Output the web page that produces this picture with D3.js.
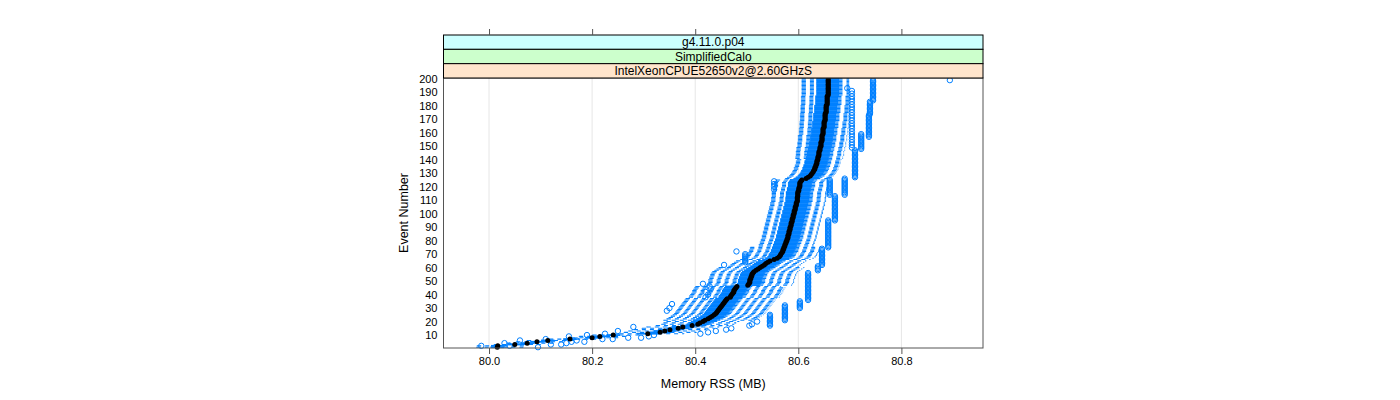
<!DOCTYPE html>
<html>
<head>
<meta charset="utf-8">
<script src="https://cdn.jsdelivr.net/npm/d3@7/dist/d3.min.js"></script>
<style>
  body { margin: 0; background: #fff; }
  svg { font-family: "Liberation Sans", Arial, sans-serif; }
</style>
</head>
<body>
<svg id="chart" width="1400" height="400"></svg>
<script>
// Memory RSS box-and-whisker per event, lattice bwplot style

const strips = ["g4.11.0.p04", "SimplifiedCalo", "IntelXeonCPUE52650v2@2.60GHzS"];
const stripColors = ["#ccffff", "#ccffcc", "#ffe5cc"];
const xTicks = [80.0, 80.2, 80.4, 80.6, 80.8];
const yTicks = [10, 20, 30, 40, 50, 60, 70, 80, 90, 100, 110, 120, 130, 140, 150, 160, 170, 180, 190, 200];
const events = d3.range(1, 201);

// lower whisker end per event (MB)
const lo = [
  79.976, 79.977, 80.010, 80.034, 80.053, 80.074, 80.117, 80.160, 80.175, 80.201,
  80.238, 80.262, 80.271, 80.281, 80.297, 80.306, 80.324, 80.335, 80.339, 80.345,
  80.339, 80.345, 80.349, 80.353, 80.357, 80.360, 80.362, 80.364, 80.366, 80.368,
  80.370, 80.372, 80.374, 80.376, 80.378, 80.380, 80.382, 80.388, 80.389, 80.391,
  80.393, 80.395, 80.395, 80.397, 80.399, 80.401, 80.422, 80.424, 80.426, 80.426,
  80.426, 80.428, 80.428, 80.430, 80.430, 80.432, 80.434, 80.438, 80.442, 80.446,
  80.465, 80.469, 80.472, 80.476, 80.480, 80.488, 80.494, 80.498, 80.500, 80.501,
  80.503, 80.505, 80.505, 80.507, 80.507, 80.524, 80.524, 80.526, 80.526, 80.528,
  80.528, 80.530, 80.530, 80.530, 80.532, 80.532, 80.532, 80.534, 80.534, 80.534,
  80.536, 80.536, 80.536, 80.538, 80.538, 80.538, 80.540, 80.540, 80.540, 80.542,
  80.542, 80.542, 80.544, 80.544, 80.544, 80.546, 80.546, 80.546, 80.548, 80.548,
  80.548, 80.548, 80.549, 80.549, 80.549, 80.549, 80.551, 80.551, 80.551, 80.553,
  80.553, 80.553, 80.553, 80.555, 80.557, 80.575, 80.579, 80.583, 80.585, 80.587,
  80.589, 80.590, 80.592, 80.592, 80.594, 80.594, 80.596, 80.596, 80.596, 80.598,
  80.595, 80.595, 80.596, 80.596, 80.596, 80.596, 80.597, 80.597, 80.597, 80.599,
  80.599, 80.599, 80.599, 80.600, 80.600, 80.600, 80.600, 80.600, 80.602, 80.602,
  80.602, 80.602, 80.602, 80.603, 80.603, 80.603, 80.603, 80.603, 80.604, 80.604,
  80.604, 80.604, 80.604, 80.604, 80.605, 80.605, 80.605, 80.605, 80.605, 80.605,
  80.606, 80.606, 80.606, 80.606, 80.606, 80.606, 80.606, 80.607, 80.607, 80.607,
  80.607, 80.607, 80.607, 80.607, 80.607, 80.607, 80.607, 80.607, 80.607, 80.607
];

// first quartile
const q1 = [
  80.004, 80.005, 80.038, 80.062, 80.081, 80.102, 80.145, 80.188, 80.203, 80.229,
  80.288, 80.312, 80.321, 80.331, 80.347, 80.356, 80.374, 80.385, 80.389, 80.395,
  80.397, 80.403, 80.407, 80.411, 80.415, 80.418, 80.420, 80.422, 80.424, 80.426,
  80.428, 80.430, 80.432, 80.434, 80.436, 80.438, 80.440, 80.446, 80.447, 80.449,
  80.451, 80.453, 80.453, 80.455, 80.457, 80.459, 80.480, 80.482, 80.484, 80.484,
  80.484, 80.486, 80.486, 80.488, 80.488, 80.490, 80.492, 80.496, 80.500, 80.504,
  80.508, 80.512, 80.515, 80.519, 80.523, 80.531, 80.537, 80.541, 80.543, 80.544,
  80.546, 80.548, 80.548, 80.550, 80.550, 80.552, 80.552, 80.554, 80.554, 80.556,
  80.556, 80.558, 80.558, 80.558, 80.560, 80.560, 80.560, 80.562, 80.562, 80.562,
  80.564, 80.564, 80.564, 80.566, 80.566, 80.566, 80.568, 80.568, 80.568, 80.570,
  80.570, 80.570, 80.572, 80.572, 80.572, 80.574, 80.574, 80.574, 80.576, 80.576,
  80.576, 80.576, 80.577, 80.577, 80.577, 80.577, 80.579, 80.579, 80.579, 80.581,
  80.581, 80.581, 80.581, 80.583, 80.585, 80.593, 80.597, 80.601, 80.603, 80.605,
  80.607, 80.608, 80.610, 80.610, 80.612, 80.612, 80.614, 80.614, 80.614, 80.616,
  80.616, 80.616, 80.618, 80.618, 80.618, 80.618, 80.620, 80.620, 80.620, 80.622,
  80.622, 80.622, 80.622, 80.624, 80.624, 80.624, 80.624, 80.624, 80.626, 80.626,
  80.626, 80.626, 80.626, 80.628, 80.628, 80.628, 80.628, 80.628, 80.630, 80.630,
  80.630, 80.630, 80.630, 80.630, 80.632, 80.632, 80.632, 80.632, 80.632, 80.632,
  80.634, 80.634, 80.634, 80.634, 80.634, 80.634, 80.634, 80.636, 80.636, 80.636,
  80.636, 80.636, 80.636, 80.636, 80.636, 80.636, 80.636, 80.636, 80.636, 80.636
];

// median
const med = [
  80.016, 80.017, 80.050, 80.074, 80.093, 80.114, 80.157, 80.200, 80.215, 80.241,
  80.308, 80.332, 80.341, 80.351, 80.367, 80.376, 80.394, 80.405, 80.409, 80.415,
  80.419, 80.425, 80.429, 80.433, 80.437, 80.440, 80.442, 80.444, 80.446, 80.448,
  80.450, 80.452, 80.454, 80.456, 80.458, 80.460, 80.462, 80.468, 80.469, 80.471,
  80.473, 80.475, 80.475, 80.477, 80.479, 80.481, 80.502, 80.504, 80.506, 80.506,
  80.506, 80.508, 80.508, 80.510, 80.510, 80.512, 80.514, 80.518, 80.522, 80.526,
  80.530, 80.534, 80.537, 80.541, 80.545, 80.553, 80.559, 80.563, 80.565, 80.566,
  80.568, 80.570, 80.570, 80.572, 80.572, 80.574, 80.574, 80.576, 80.576, 80.578,
  80.578, 80.580, 80.580, 80.580, 80.582, 80.582, 80.582, 80.584, 80.584, 80.584,
  80.586, 80.586, 80.586, 80.588, 80.588, 80.588, 80.590, 80.590, 80.590, 80.592,
  80.592, 80.592, 80.594, 80.594, 80.594, 80.596, 80.596, 80.596, 80.598, 80.598,
  80.598, 80.598, 80.599, 80.599, 80.599, 80.599, 80.601, 80.601, 80.601, 80.603,
  80.603, 80.603, 80.603, 80.605, 80.607, 80.615, 80.619, 80.623, 80.625, 80.627,
  80.629, 80.630, 80.632, 80.632, 80.634, 80.634, 80.636, 80.636, 80.636, 80.638,
  80.638, 80.638, 80.640, 80.640, 80.640, 80.640, 80.642, 80.642, 80.642, 80.644,
  80.644, 80.644, 80.644, 80.646, 80.646, 80.646, 80.646, 80.646, 80.648, 80.648,
  80.648, 80.648, 80.648, 80.650, 80.650, 80.650, 80.650, 80.650, 80.652, 80.652,
  80.652, 80.652, 80.652, 80.652, 80.654, 80.654, 80.654, 80.654, 80.654, 80.654,
  80.656, 80.656, 80.656, 80.656, 80.656, 80.656, 80.656, 80.658, 80.658, 80.658,
  80.658, 80.658, 80.658, 80.658, 80.658, 80.658, 80.658, 80.658, 80.658, 80.658
];

// third quartile
const q3 = [
  80.028, 80.029, 80.062, 80.086, 80.105, 80.126, 80.169, 80.212, 80.227, 80.253,
  80.328, 80.352, 80.361, 80.371, 80.387, 80.396, 80.414, 80.425, 80.429, 80.435,
  80.441, 80.447, 80.451, 80.455, 80.459, 80.462, 80.464, 80.466, 80.468, 80.470,
  80.472, 80.474, 80.476, 80.478, 80.480, 80.482, 80.484, 80.490, 80.491, 80.493,
  80.495, 80.497, 80.497, 80.499, 80.501, 80.503, 80.524, 80.526, 80.528, 80.528,
  80.528, 80.530, 80.530, 80.532, 80.532, 80.534, 80.536, 80.540, 80.544, 80.548,
  80.552, 80.556, 80.559, 80.563, 80.567, 80.575, 80.581, 80.585, 80.587, 80.588,
  80.590, 80.592, 80.592, 80.594, 80.594, 80.596, 80.596, 80.598, 80.598, 80.600,
  80.600, 80.602, 80.602, 80.602, 80.604, 80.604, 80.604, 80.606, 80.606, 80.606,
  80.608, 80.608, 80.608, 80.610, 80.610, 80.610, 80.612, 80.612, 80.612, 80.614,
  80.614, 80.614, 80.616, 80.616, 80.616, 80.618, 80.618, 80.618, 80.620, 80.620,
  80.620, 80.620, 80.621, 80.621, 80.621, 80.621, 80.623, 80.623, 80.623, 80.625,
  80.625, 80.625, 80.625, 80.627, 80.629, 80.635, 80.639, 80.643, 80.645, 80.647,
  80.649, 80.650, 80.652, 80.652, 80.654, 80.654, 80.656, 80.656, 80.656, 80.658,
  80.658, 80.658, 80.660, 80.660, 80.660, 80.660, 80.662, 80.662, 80.662, 80.664,
  80.664, 80.664, 80.664, 80.666, 80.666, 80.666, 80.666, 80.666, 80.668, 80.668,
  80.668, 80.668, 80.668, 80.670, 80.670, 80.670, 80.670, 80.670, 80.672, 80.672,
  80.672, 80.672, 80.672, 80.672, 80.674, 80.674, 80.674, 80.674, 80.674, 80.674,
  80.676, 80.676, 80.676, 80.676, 80.676, 80.676, 80.676, 80.678, 80.678, 80.678,
  80.678, 80.678, 80.678, 80.678, 80.678, 80.678, 80.678, 80.678, 80.678, 80.678
];

// upper whisker end
const hi = [
  80.066, 80.067, 80.100, 80.124, 80.143, 80.164, 80.207, 80.250, 80.265, 80.291,
  80.378, 80.402, 80.411, 80.421, 80.437, 80.446, 80.464, 80.475, 80.479, 80.485,
  80.514, 80.520, 80.524, 80.528, 80.532, 80.535, 80.537, 80.539, 80.541, 80.543,
  80.545, 80.547, 80.549, 80.551, 80.553, 80.555, 80.557, 80.563, 80.564, 80.566,
  80.568, 80.570, 80.570, 80.572, 80.574, 80.566, 80.587, 80.589, 80.591, 80.591,
  80.591, 80.593, 80.593, 80.595, 80.595, 80.597, 80.599, 80.603, 80.607, 80.611,
  80.600, 80.604, 80.607, 80.611, 80.615, 80.623, 80.629, 80.633, 80.635, 80.636,
  80.638, 80.640, 80.640, 80.642, 80.642, 80.629, 80.629, 80.631, 80.631, 80.633,
  80.633, 80.635, 80.635, 80.635, 80.637, 80.637, 80.637, 80.639, 80.639, 80.639,
  80.641, 80.641, 80.641, 80.643, 80.643, 80.643, 80.645, 80.645, 80.645, 80.647,
  80.647, 80.647, 80.649, 80.649, 80.649, 80.651, 80.651, 80.651, 80.653, 80.653,
  80.653, 80.653, 80.654, 80.654, 80.654, 80.654, 80.656, 80.656, 80.656, 80.658,
  80.658, 80.658, 80.658, 80.660, 80.662, 80.660, 80.664, 80.668, 80.670, 80.672,
  80.674, 80.675, 80.677, 80.677, 80.679, 80.679, 80.681, 80.681, 80.681, 80.683,
  80.686, 80.686, 80.688, 80.688, 80.688, 80.688, 80.690, 80.690, 80.690, 80.692,
  80.692, 80.692, 80.692, 80.694, 80.694, 80.694, 80.694, 80.694, 80.696, 80.696,
  80.696, 80.696, 80.696, 80.697, 80.697, 80.697, 80.697, 80.697, 80.698, 80.698,
  80.698, 80.698, 80.698, 80.698, 80.698, 80.698, 80.698, 80.698, 80.698, 80.698,
  80.698, 80.698, 80.698, 80.698, 80.698, 80.698, 80.698, 80.698, 80.698, 80.698,
  80.698, 80.698, 80.698, 80.698, 80.698, 80.698, 80.698, 80.698, 80.698, 80.698
];

// outliers: [event, MB]
const outliers = [
  [1, 80.095], [2, 79.985], [2, 80.040], [3, 80.120], [3, 80.140], [4, 80.030], [4, 80.150],
  [5, 80.160], [5, 80.185], [6, 80.170], [6, 80.060], [7, 80.220], [7, 80.240], [7, 80.110],
  [8, 80.270], [8, 80.295], [9, 80.310], [9, 80.155], [10, 80.320], [10, 80.190], [11, 80.225],
  [11, 80.410], [12, 80.425], [13, 80.250], [13, 80.440], [14, 80.460], [15, 80.470], [16, 80.280],
  [17, 80.545], [18, 80.545], [19, 80.545], [20, 80.545], [21, 80.545], [22, 80.545], [23, 80.545],
  [24, 80.545], [25, 80.545], [17, 80.505], [18, 80.510], [20, 80.520],
  [21, 80.574], [22, 80.574], [23, 80.574], [24, 80.574], [25, 80.574], [26, 80.574], [27, 80.574],
  [28, 80.574], [29, 80.574], [30, 80.574], [31, 80.574], [32, 80.574],
  [30, 80.603], [31, 80.603], [32, 80.603], [33, 80.603], [34, 80.603], [35, 80.603],
  [36, 80.619], [37, 80.619], [38, 80.619], [39, 80.619], [40, 80.619], [41, 80.619], [42, 80.619],
  [43, 80.619], [44, 80.619], [45, 80.619], [46, 80.619], [47, 80.619], [48, 80.619], [49, 80.619],
  [50, 80.619], [51, 80.619], [52, 80.619], [53, 80.619], [54, 80.619], [55, 80.619], [56, 80.619],
  [28, 80.345], [30, 80.350], [33, 80.355], [38, 80.420], [40, 80.425], [42, 80.420], [44, 80.430],
  [46, 80.428], [48, 80.415],
  [58, 80.638], [59, 80.638], [60, 80.638], [61, 80.638], [62, 80.646], [63, 80.646], [64, 80.646],
  [65, 80.646], [66, 80.646], [67, 80.646], [68, 80.646], [69, 80.646], [70, 80.646], [71, 80.646],
  [72, 80.646], [73, 80.646], [74, 80.646],
  [62, 80.456], [64, 80.497], [65, 80.497], [66, 80.497], [67, 80.497], [68, 80.497], [69, 80.497],
  [70, 80.497], [72, 80.480],
  [75, 80.658], [76, 80.658], [77, 80.658], [78, 80.658], [79, 80.658], [80, 80.658], [81, 80.658],
  [82, 80.658], [83, 80.658], [84, 80.658], [85, 80.658], [86, 80.658], [87, 80.658], [88, 80.658],
  [89, 80.658], [90, 80.658], [91, 80.658], [92, 80.658], [93, 80.658], [94, 80.658], [95, 80.658],
  [95, 80.671], [96, 80.671], [97, 80.671], [98, 80.671], [99, 80.671], [100, 80.671], [101, 80.671],
  [102, 80.671], [103, 80.671], [104, 80.671], [105, 80.671], [106, 80.671], [107, 80.671],
  [108, 80.671], [109, 80.671], [110, 80.671], [111, 80.671], [112, 80.671], [113, 80.671],
  [114, 80.661], [115, 80.661], [116, 80.661], [117, 80.661], [118, 80.661], [119, 80.661],
  [120, 80.661], [121, 80.661], [122, 80.661], [123, 80.661], [124, 80.661], [125, 80.661],
  [114, 80.690], [115, 80.690], [116, 80.690], [117, 80.690], [118, 80.690], [119, 80.690],
  [120, 80.690], [121, 80.690], [122, 80.690], [123, 80.690], [124, 80.690], [125, 80.690],
  [126, 80.690], [118, 80.553], [120, 80.553], [122, 80.553], [124, 80.553],
  [127, 80.710], [128, 80.710], [129, 80.710], [130, 80.710], [131, 80.710], [132, 80.710],
  [133, 80.710], [134, 80.710], [135, 80.710], [136, 80.710], [137, 80.710], [138, 80.710],
  [139, 80.710], [140, 80.710], [141, 80.710], [142, 80.710], [143, 80.710], [144, 80.710],
  [145, 80.710], [146, 80.710], [147, 80.710],
  [148, 80.722], [149, 80.722], [150, 80.722], [151, 80.722], [152, 80.722], [153, 80.722],
  [154, 80.722], [155, 80.722], [156, 80.722], [157, 80.722], [158, 80.722], [159, 80.722],
  [149, 80.704], [151, 80.704], [153, 80.704], [155, 80.704], [157, 80.704], [159, 80.704],
  [161, 80.704], [163, 80.704], [165, 80.704], [167, 80.704], [169, 80.704], [171, 80.704],
  [173, 80.704], [175, 80.704], [177, 80.704], [179, 80.704], [181, 80.704], [183, 80.704],
  [185, 80.704], [187, 80.704], [189, 80.704], [191, 80.704],
  [157, 80.737], [158, 80.737], [159, 80.737], [160, 80.737], [161, 80.737], [162, 80.737],
  [163, 80.737], [164, 80.737], [165, 80.737], [166, 80.737], [167, 80.737], [168, 80.737],
  [169, 80.737], [170, 80.737], [171, 80.737], [172, 80.737], [173, 80.737],
  [174, 80.739], [175, 80.739], [176, 80.739], [177, 80.739], [178, 80.739], [179, 80.739],
  [180, 80.739], [181, 80.739], [182, 80.739], [183, 80.739],
  [184, 80.745], [185, 80.745], [186, 80.745], [187, 80.745], [188, 80.745], [189, 80.745],
  [190, 80.745], [191, 80.745], [192, 80.745], [193, 80.745], [194, 80.745], [195, 80.745],
  [196, 80.745], [197, 80.745], [198, 80.745], [199, 80.745],
  [193, 80.695], [199, 80.894]
];

const W = 1400, H = 400;
const panel = { left: 443.5, right: 983, top: 78, bottom: 348 };
const stripH = (panel.top - 35) / strips.length;
const blue = "#0080ff";

const svg = d3.select("#chart");

const x = d3.scaleLinear().domain([79.9117, 80.9583]).range([panel.left, panel.right]);
const y = d3.scaleLinear().domain([0.4, 200.6]).range([panel.bottom, panel.top]);

// gridlines
svg.append("g")
  .selectAll("line")
  .data(xTicks)
  .enter()
  .append("line")
  .attr("x1", (d) => x(d)).attr("x2", (d) => x(d))
  .attr("y1", panel.top).attr("y2", panel.bottom)
  .attr("stroke", "#e6e6e6").attr("stroke-width", 1);

const plot = svg.append("g");
const bh = (y(0) - y(1)) * 0.5; // box height (box.ratio = 1)

// whiskers (dashed)
plot.selectAll(".wl").data(events).enter().append("line")
  .attr("x1", (d, i) => x(lo[i])).attr("x2", (d, i) => x(q1[i]))
  .attr("y1", (d) => y(d)).attr("y2", (d) => y(d))
  .attr("stroke", blue).attr("stroke-width", 1.1).attr("stroke-dasharray", "4,4");
plot.selectAll(".wr").data(events).enter().append("line")
  .attr("x1", (d, i) => x(q3[i])).attr("x2", (d, i) => x(hi[i]))
  .attr("y1", (d) => y(d)).attr("y2", (d) => y(d))
  .attr("stroke", blue).attr("stroke-width", 1.1).attr("stroke-dasharray", "4,4");

// whisker caps
plot.selectAll(".cl").data(events).enter().append("line")
  .attr("x1", (d, i) => x(lo[i])).attr("x2", (d, i) => x(lo[i]))
  .attr("y1", (d) => y(d) - bh / 2).attr("y2", (d) => y(d) + bh / 2)
  .attr("stroke", blue).attr("stroke-width", 1);
plot.selectAll(".cr").data(events).enter().append("line")
  .attr("x1", (d, i) => x(hi[i])).attr("x2", (d, i) => x(hi[i]))
  .attr("y1", (d) => y(d) - bh / 2).attr("y2", (d) => y(d) + bh / 2)
  .attr("stroke", blue).attr("stroke-width", 1);

// boxes
plot.selectAll(".box").data(events).enter().append("rect")
  .attr("x", (d, i) => x(q1[i]))
  .attr("width", (d, i) => x(q3[i]) - x(q1[i]))
  .attr("y", (d) => y(d) - bh / 2)
  .attr("height", bh)
  .attr("fill", "none")
  .attr("stroke", blue).attr("stroke-width", 1.15);

// outliers
plot.selectAll(".out").data(outliers).enter().append("circle")
  .attr("cx", (d) => x(d[1])).attr("cy", (d) => y(d[0]))
  .attr("r", 2.7)
  .attr("fill", "none").attr("stroke", blue).attr("stroke-width", 1);

// medians
plot.selectAll(".med").data(events).enter().append("circle")
  .attr("cx", (d, i) => x(med[i])).attr("cy", (d) => y(d))
  .attr("r", 2.5).attr("fill", "#000");

// panel border
svg.append("rect")
  .attr("x", panel.left).attr("y", panel.top)
  .attr("width", panel.right - panel.left).attr("height", panel.bottom - panel.top)
  .attr("fill", "none").attr("stroke", "#555").attr("stroke-width", 1);

// strips (outermost first)
strips.forEach((s, i) => {
  const top = 35 + i * stripH;
  svg.append("rect")
    .attr("x", panel.left).attr("y", top)
    .attr("width", panel.right - panel.left).attr("height", stripH)
    .attr("fill", stripColors[i]).attr("stroke", "#000").attr("stroke-width", 1);
  svg.append("text")
    .attr("x", (panel.left + panel.right) / 2).attr("y", top + stripH / 2 + 4.2)
    .attr("text-anchor", "middle").attr("font-size", 12).attr("fill", "#000")
    .text(s);
});

// bottom axis
const xAxis = svg.append("g")
  .attr("transform", `translate(0,${panel.bottom})`)
  .call(d3.axisBottom(x).tickValues(xTicks).tickFormat(d3.format(".1f")).tickSize(6).tickPadding(3));
xAxis.select(".domain").remove();
xAxis.selectAll("line").attr("stroke", "#555");
xAxis.selectAll("text").attr("font-size", 11).attr("fill", "#000")
  .style("font-family", "Liberation Sans, Arial, sans-serif");

// top axis ticks (no labels)
const xTop = svg.append("g")
  .attr("transform", "translate(0,35)")
  .call(d3.axisTop(x).tickValues(xTicks).tickFormat("").tickSize(6));
xTop.select(".domain").remove();
xTop.selectAll("line").attr("stroke", "#555");

// left axis labels
const yAxis = svg.append("g")
  .attr("transform", `translate(${panel.left},0)`)
  .call(d3.axisLeft(y).tickValues(yTicks).tickSize(0).tickPadding(6));
yAxis.select(".domain").remove();
yAxis.selectAll("text").attr("font-size", 11).attr("fill", "#000")
  .style("font-family", "Liberation Sans, Arial, sans-serif");

// axis titles
svg.append("text")
  .attr("x", (panel.left + panel.right) / 2).attr("y", 388)
  .attr("text-anchor", "middle").attr("font-size", 12.5).attr("fill", "#000")
  .text("Memory RSS (MB)");
svg.append("text")
  .attr("transform", `translate(408,${(panel.top + panel.bottom) / 2}) rotate(-90)`)
  .attr("text-anchor", "middle").attr("font-size", 12.5).attr("fill", "#000")
  .text("Event Number");
</script>
</body>
</html>
